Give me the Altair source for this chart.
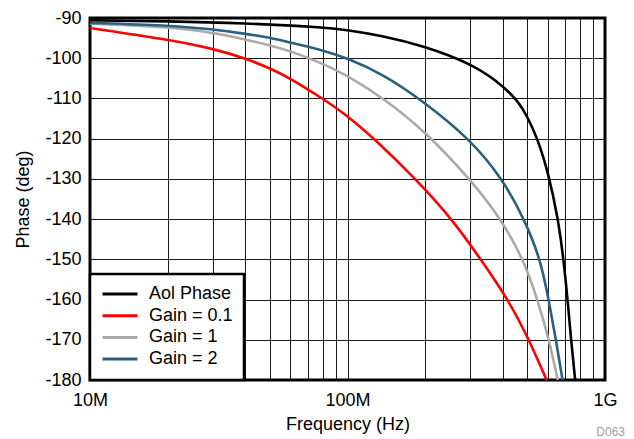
import altair as alt
import pandas as pd

FONT = "Liberation Sans"

series_names = ["Aol Phase", "Gain = 0.1", "Gain = 1", "Gain = 2"]
series_colors = ["#000000", "#ff0000", "#aaaaaa", "#2a6080"]

aol_freq = [1e7, 2e7, 4e7, 8e7, 1e8, 1.34e8, 2e8, 3e8, 3.77e8, 4.57e8, 5.03e8, 5.47e8, 6.02e8, 6.58e8, 6.9e8, 7.16e8, 7.38e8, 7.66e8]
aol_phase = [-90.6, -90.8, -91.3, -92.3, -93.0, -94.3, -97.0, -101.3, -105.4, -110.3, -114.9, -120.0, -128.4, -140.0, -150.0, -160.0, -170.0, -180.0]

g01_freq = [1e7, 2e7, 3e7, 4e7, 5e7, 6e7, 8e7, 1e8, 1.27e8, 1.84e8, 2.55e8, 3.29e8, 4.21e8, 5.07e8, 5.93e8]
g01_phase = [-92.5, -95.3, -97.6, -100.0, -102.5, -105.0, -110.0, -114.3, -120.0, -130.0, -140.0, -150.0, -160.0, -170.0, -180.0]

g1_freq = [1e7, 2e7, 3e7, 4e7, 5e7, 6e7, 8e7, 1e8, 1.42e8, 2e8, 3e8, 3.95e8, 4.82e8, 5.47e8, 6.07e8, 6.55e8]
g1_phase = [-91.4, -92.2, -93.6, -95.3, -96.8, -98.2, -101.3, -104.3, -110.5, -118.2, -130.1, -140.0, -150.0, -160.0, -170.0, -180.0]

g2_freq = [1e7, 2e7, 3e7, 4e7, 5e7, 6e7, 8e7, 1e8, 1.38e8, 2e8, 3e8, 4e8, 4.86e8, 5.62e8, 6.04e8, 6.45e8, 6.84e8]
g2_phase = [-91.2, -91.8, -92.8, -93.9, -94.9, -96.1, -98.0, -100.0, -104.0, -111.0, -120.2, -130.0, -140.0, -150.0, -160.0, -170.0, -180.0]

x_ticks = [1e7, 2e7, 3e7, 4e7, 5e7, 6e7, 7e7, 8e7, 9e7,
           1e8, 2e8, 3e8, 4e8, 5e8, 6e8, 7e8, 8e8, 9e8, 1e9]
y_ticks = [-180, -170, -160, -150, -140, -130, -120, -110, -100, -90]

rows = []
for name, fs, ps in zip(series_names,
                        [aol_freq, g01_freq, g1_freq, g2_freq],
                        [aol_phase, g01_phase, g1_phase, g2_phase]):
    for f, p in zip(fs, ps):
        rows.append({"series": name, "freq": f, "phase": p})
df = pd.DataFrame(rows)

lines = alt.Chart(df).mark_line(strokeWidth=2.6, clip=True, interpolate="basis").encode(
    x=alt.X("freq:Q",
            scale=alt.Scale(type="log", domain=[1e7, 1e9], nice=False),
            axis=alt.Axis(values=x_ticks, title="Frequency (Hz)",
                          labelExpr="datum.value == 1e7 ? '10M' : datum.value == 1e8 ? '100M' : datum.value == 1e9 ? '1G' : ''",
                          labelFlush=False, labelOverlap=False, ticks=False, domain=False,
                          labelPadding=11, titlePadding=6,
                          grid=True, gridColor="#000000", gridWidth=1, gridOpacity=0.9)),
    y=alt.Y("phase:Q",
            scale=alt.Scale(domain=[-180, -90], nice=False, zero=False),
            axis=alt.Axis(values=y_ticks, title="Phase (deg)", ticks=False, domain=False,
                          labelExpr="'' + datum.value",
                          labelPadding=9, titlePadding=12,
                          grid=True, gridColor="#000000", gridWidth=1, gridOpacity=0.9)),
    color=alt.Color("series:N",
                    scale=alt.Scale(domain=series_names, range=series_colors),
                    sort=series_names,
                    legend=alt.Legend(title=None, orient="bottom-left", offset=0,
                                      symbolType="stroke", symbolSize=1225, symbolStrokeWidth=3,
                                      labelFontSize=18, labelFont=FONT, labelColor="#000000",
                                      labelOffset=10, padding=11, rowPadding=3.7, clipHeight=18,
                                      strokeColor="#000000", fillColor="#ffffff")),
)

note = alt.Chart(pd.DataFrame({"t": ["D063"]})).mark_text(
    font=FONT, fontSize=12, color="#a0a0a0", align="right", baseline="middle"
).encode(x=alt.value(535), y=alt.value(414), text="t:N")

chart = alt.layer(lines, note).properties(
    width=515, height=362,
    autosize=alt.AutoSizeParams(type="none"),
    padding={"left": 82, "top": 10, "right": 21, "bottom": 60},
).configure_view(
    stroke="#000000", strokeWidth=3
).configure_axis(
    labelFont=FONT, titleFont=FONT, labelFontSize=18, titleFontSize=18,
    labelColor="#000000", titleColor="#000000", titleFontWeight="normal"
).configure_legend(
    strokeWidth=2.5
)

chart.save("out.html", embed_options={"renderer": "svg", "actions": False})
